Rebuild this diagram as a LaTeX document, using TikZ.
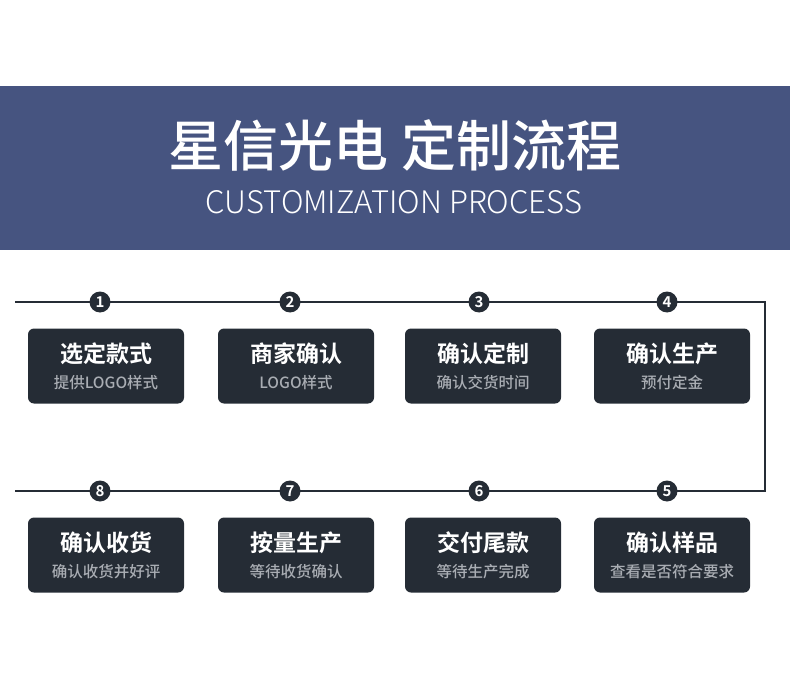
\documentclass[tikz,border=0pt]{standalone}
\usepackage{fontspec}
\setmainfont{Noto Sans CJK SC}
\newfontfamily\cjk{Noto Sans CJK SC}
\newfontfamily\cjkbold{Noto Sans CJK SC Bold}
\newfontfamily\cjkmed{Noto Sans CJK SC Medium}
\newfontfamily\cjklight{Noto Sans CJK SC Light}
\usetikzlibrary{positioning}
\definecolor{banner}{HTML}{465480}
\definecolor{boxdark}{HTML}{252C35}
\definecolor{subgrey}{HTML}{A9ADB3}
\tikzset{
  stage/.style={fill=boxdark,rounded corners=6pt,minimum width=156pt,minimum height=75pt},
  num/.style={circle,fill=boxdark,inner sep=0pt,minimum size=21pt,text=white,font=\cjkbold\fontsize{15}{15}\selectfont},
  flow/.style={draw=boxdark,line width=1.6pt}
}
\newcommand{\steptext}[3]{\node[text=white,font=\cjkbold\fontsize{23}{23}\selectfont] at ([yshift=12pt]#1.center) {#2};
  \node[text=subgrey,font=\cjkmed\fontsize{15.5}{15.5}\selectfont] at ([yshift=-17pt]#1.center) {#3};}
\begin{document}
\begin{tikzpicture}[x=1pt,y=-1pt]
\useasboundingbox (0,0) rectangle (790,695);
% banner
\fill[banner] (0,86) rectangle (790,250);
\node[text=white,font=\cjkmed\fontsize{55}{55}\selectfont] (title) at (395,145) {星信光电 定制流程};
\node[text=white,font=\cjklight\fontsize{31}{31}\selectfont] (sub) at (394,202) {CUSTOMIZATION PROCESS};
% flow line
\coordinate (l1) at (15,302);
\coordinate (r1) at (765,302);
\coordinate (r2) at (765,491);
\coordinate (l2) at (15,491);
\draw[flow] (l1) -- (r1) -- (r2) -- (l2);
% numbers
\foreach \i/\x in {1/100,2/290,3/479,4/667} \node[num] (n\i) at (\x,302) {\i};
\foreach \i/\x in {8/100,7/290,6/479,5/667} \node[num] (n\i) at (\x,491) {\i};
% boxes
\node[stage] (s1) at (106,366) {};
\node[stage] (s2) at (296,366) {};
\node[stage] (s3) at (483,366) {};
\node[stage] (s4) at (672,366) {};
\node[stage] (s8) at (106,555) {};
\node[stage] (s7) at (296,555) {};
\node[stage] (s6) at (483,555) {};
\node[stage] (s5) at (672,555) {};
\steptext{s1}{选定款式}{提供LOGO样式}
\steptext{s2}{商家确认}{LOGO样式}
\steptext{s3}{确认定制}{确认交货时间}
\steptext{s4}{确认生产}{预付定金}
\steptext{s8}{确认收货}{确认收货并好评}
\steptext{s7}{按量生产}{等待收货确认}
\steptext{s6}{交付尾款}{等待生产完成}
\steptext{s5}{确认样品}{查看是否符合要求}
\end{tikzpicture}
\end{document}
